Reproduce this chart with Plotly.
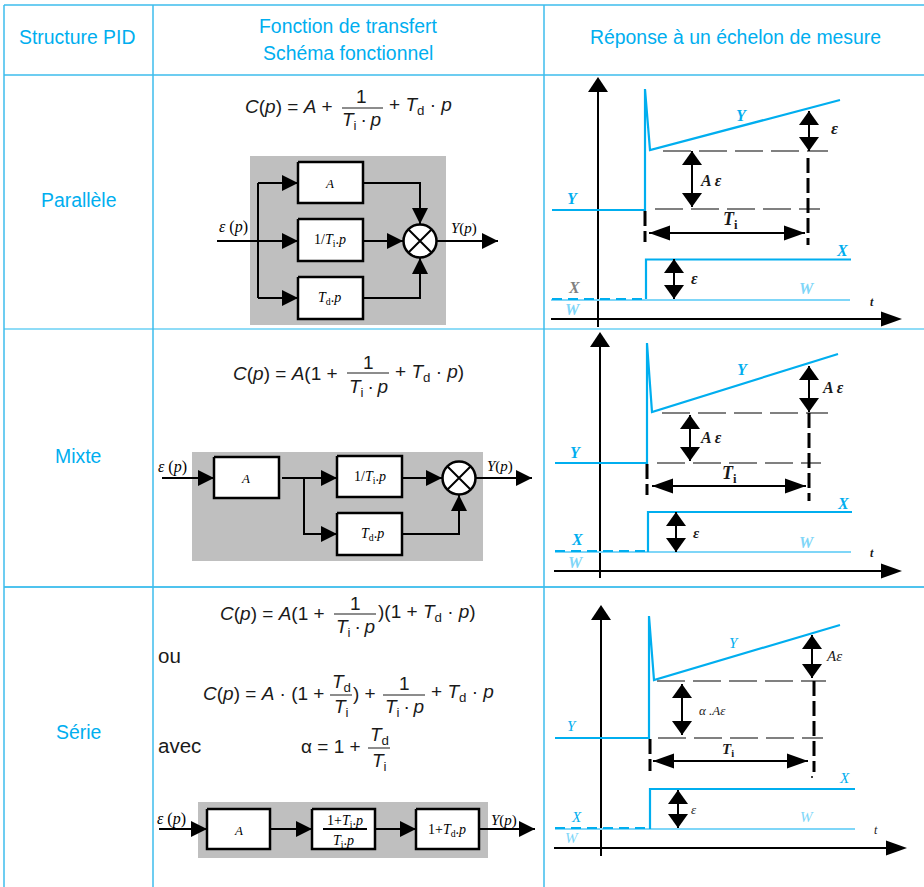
import plotly.graph_objects as go

BLUE = '#00aeef'
LIGHT = '#7fd6f8'
RULE = '#3dbcec'
GRAY_BOX = '#bfbfbf'
SANS = 'Liberation Sans'
SERIF = 'Liberation Serif'

# table rules
rule_h = [(5, RULE, 1.5), (75, RULE, 1.5), (329, '#8fdcf7', 2), (587, '#4fc3ee', 2)]
rule_v = [(4, RULE, 1.5), (153, RULE, 1.5), (544, RULE, 1.5)]

headers = [(77, 37, 'Structure PID'), (348, 26, 'Fonction de transfert'), (348, 53, 'Schéma fonctionnel'),
           (735, 37, 'Réponse à un échelon de mesure')]
row_names = [(78, 200, 'Parallèle'), (78, 456, 'Mixte'), (78, 732, 'Série')]

# block diagrams: grey background, boxes (x0, x1, y0, y1), wires, arrows, summing circles
gray_rects = [(250, 446, 156, 325), (192, 483, 452, 561), (198, 488, 802, 858)]
boxes = [(298, 363, 162, 203), (298, 363, 219, 261), (298, 363, 277, 319),
         (214, 279, 457, 498), (337, 402, 456, 497), (337, 402, 513, 555),
         (207, 270, 809, 849), (312, 375, 809, 849), (416, 479, 809, 849)]
circles = [(420, 241), (459, 478)]
wires = [
    [(217, 241), (298, 241)], [(258, 183), (258, 298)], [(258, 183), (298, 183)], [(258, 298), (298, 298)],
    [(363, 183), (420, 183), (420, 224)], [(363, 241), (403, 241)], [(363, 298), (420, 298), (420, 258)],
    [(437, 241), (498, 241)],
    [(162, 478), (214, 478)], [(282, 478), (337, 478)], [(304, 478), (304, 534), (337, 534)],
    [(402, 478), (442, 478)], [(402, 534), (459, 534), (459, 495)], [(476, 478), (532, 478)],
    [(159, 829), (207, 829)], [(270, 829), (312, 829)], [(375, 829), (416, 829)], [(479, 829), (535, 829)],
    [(323, 829), (367, 829)],
]
wire_heads = [((298, 183), 'r'), ((298, 241), 'r'), ((298, 298), 'r'), ((403, 241), 'r'), ((420, 224), 'd'),
              ((420, 258), 'u'), ((498, 241), 'r'),
              ((214, 478), 'r'), ((337, 478), 'r'), ((337, 534), 'r'), ((442, 478), 'r'), ((459, 495), 'u'),
              ((532, 478), 'r'),
              ((207, 829), 'r'), ((312, 829), 'r'), ((416, 829), 'r'), ((535, 829), 'r')]

block_text = [
    (329, 183, '<i>A</i>', 13), (330, 240, '1/<i>T</i><sub>i</sub>.<i>p</i>', 14), (329, 298, '<i>T</i><sub>d</sub>.<i>p</i>', 14),
    (245, 478, '<i>A</i>', 13), (370, 477, '1/<i>T</i><sub>i</sub>.<i>p</i>', 14), (372, 534, '<i>T</i><sub>d</sub>.<i>p</i>', 14),
    (238, 830, '<i>A</i>', 13), (345, 821, '1+<i>T</i><sub>i</sub>.<i>p</i>', 14), (343, 841, '<i>T</i><sub>i</sub>.<i>p</i>', 14),
    (447, 830, '1+<i>T</i><sub>d</sub>.<i>p</i>', 14),
    (233, 227, '<i>ε</i> (<i>p</i>)', 16), (464, 228, '<i>Y</i>(<i>p</i>)', 15),
    (172, 467, '<i>ε</i> (<i>p</i>)', 16), (500, 466, '<i>Y</i>(<i>p</i>)', 15),
    (171, 819, '<i>ε</i> (<i>p</i>)', 16), (504, 820, '<i>Y</i>(<i>p</i>)', 15),
]

# formulas
Ti_p = '<i>T</i><sub>i</sub>\u2009·\u2009<i>p</i>'
Td_p = '<i>T</i><sub>d</sub> · <i>p</i>'
Cp = '<i>C</i>(<i>p</i>) = '
eq_left = [
    (245, 106, Cp + '<i>A</i> +'), (389, 106, '+ ' + Td_p),
    (233, 373, Cp + '<i>A</i>(1 +'), (395, 373, '+ ' + Td_p + ')'),
    (220, 613, Cp + '<i>A</i>(1 +'), (378, 613, ')(1 + ' + Td_p + ')'),
    (203, 693, Cp + '<i>A</i> · (1 +'), (353, 693, ') +'), (431, 693, '+ ' + Td_p),
    (301, 746, 'α = 1 +'),
]
eq_center = [
    (361, 96, '1'), (361, 121, Ti_p), (368, 362, '1'), (368, 388, Ti_p),
    (355, 603, '1'), (355, 628, Ti_p), (341, 683, '<i>T</i><sub>d</sub>'), (341, 708, '<i>T</i><sub>i</sub>'),
    (404, 683, '1'), (404, 708, Ti_p), (379, 736, '<i>T</i><sub>d</sub>'), (379, 762, '<i>T</i><sub>i</sub>'),
]
fraction_bars = [(342, 383, 108), (347, 389, 373), (334, 376, 614), (330, 352, 695), (383, 425, 695), (368, 390, 748)]
plain_words = [(158, 655, 'ou'), (158, 745, 'avec')]

# step responses, one set of lists per row
axes_v = [(598, 327, 77), (600, 578, 332), (601, 856, 605)]
axes_h = [(551, 319, 902), (554, 571, 902), (554, 848, 907)]
curve_y = [[(552, 210), (645, 210), (645, 89), (650, 150), (840, 100)],
           [(555, 463), (647, 463), (647, 343), (652, 412), (838, 354)],
           [(555, 738), (649, 738), (649, 616), (654, 680), (840, 625)]]
curve_x = [[(646, 299), (646, 259.5), (851, 259.5)],
           [(648, 552), (648, 512), (852, 512)],
           [(650, 829), (650, 789), (855, 789)]]
curve_x_dash = [[(552, 299), (646, 299)], [(555, 551), (648, 551)], [(555, 828), (650, 828)]]
curve_w = [[(551, 300), (850, 300)], [(555, 552), (851, 552)], [(555, 829), (855, 829)]]
gray_dash = [[(663, 151), (828, 151)], [(655, 209), (820, 209)],
             [(662, 413), (828, 413)], [(657, 463), (821, 463)],
             [(657, 681), (826, 681)], [(658, 738), (823, 738)]]
black_dash = [[(645, 211), (645, 242)], [(808, 158), (808, 245)],
              [(647, 464), (647, 495)], [(809, 413), (809, 501)],
              [(650, 739), (650, 771)], [(814, 681), (814, 772)]]
stray_tick = [(811, 777), (813, 777)]
double_arrows = [[(649, 233), (805, 233)], [(692, 151), (692, 207)], [(809, 111), (809, 151)], [(674, 259), (674, 299)],
                 [(652, 486), (806, 486)], [(690, 415), (690, 461)], [(809, 366), (809, 412)], [(676, 512), (676, 552)],
                 [(653, 761), (808, 761)], [(682, 684), (682, 735)], [(812, 635), (812, 678)], [(678, 790), (678, 828)]]

labels_blue = [(572, 198, 'Y'), (741, 115, 'Y'), (842, 250, 'X'),
               (575, 452, 'Y'), (742, 369, 'Y'), (843, 503, 'X'), (577, 539, 'X')]
labels_light = [(807, 288, 'W'), (573, 309, 'W'), (807, 542, 'W'), (576, 562, 'W')]
labels_gray = [(574, 287, 'X')]
labels_black = [(834, 128, 'ε', 17), (711, 180, 'A ε', 16), (730, 220, '<i>T</i><sub>i</sub>', 18), (694, 278, 'ε', 16), (872, 302, 't', 12),
                (833, 387, 'A ε', 16), (711, 437, 'A ε', 16), (729, 474, '<i>T</i><sub>i</sub>', 18), (696, 533, 'ε', 15), (872, 553, 't', 12)]
# third row is set lighter in the source
labels_blue3 = [(572, 726, 'Y'), (734, 643, 'Y'), (844, 778, 'X'), (576, 817, 'X')]
labels_light3 = [(807, 817, 'W'), (572, 838, 'W')]
labels_black3 = [(834, 656, '<i>Aε</i>', 15), (712, 710, '<i>α .Aε</i>', 13), (728, 750, '<b><i>T</i><sub>i</sub></b>', 15),
                 (694, 809, '<i>ε</i>', 13), (876, 830, '<i>t</i>', 12)]

fig = go.Figure()


def line(points, color='black', width=2, dash=None):
    fig.add_trace(go.Scatter(x=[p[0] for p in points], y=[p[1] for p in points], mode='lines',
                             line=dict(color=color, width=width, dash=dash), hoverinfo='skip'))


def rect(r, fill, border=None):
    x0, x1, y0, y1 = r
    fig.add_trace(go.Scatter(x=[x0, x1, x1, x0, x0], y=[y0, y0, y1, y1, y0], mode='lines', fill='toself', fillcolor=fill,
                             line=dict(color=border or fill, width=2.5 if border else 0), hoverinfo='skip'))


def head(tip, direction, length=16, half=8):
    x, y = tip
    if direction == 'r':
        xs, ys = [x, x - length, x - length], [y, y - half, y + half]
    elif direction == 'l':
        xs, ys = [x, x + length, x + length], [y, y - half, y + half]
    elif direction == 'u':
        xs, ys = [x, x - half, x + half], [y, y + length, y + length]
    else:
        xs, ys = [x, x - half, x + half], [y, y - length, y - length]
    fig.add_trace(go.Scatter(x=xs, y=ys, mode='lines', fill='toself', fillcolor='black',
                             line=dict(color='black', width=0), hoverinfo='skip'))


def text(x, y, s, size, color='black', font=SANS, anchor='center'):
    fig.add_annotation(x=x, y=y, text=s, showarrow=False, xanchor=anchor, yanchor='middle',
                       font=dict(family=font, size=size, color=color), borderpad=0, borderwidth=0)


for y, color, w in rule_h:
    line([(4, y), (924, y)], color, w)
for x, color, w in rule_v:
    line([(x, 5), (x, 887)], color, w)

for r in gray_rects:
    rect(r, GRAY_BOX)
for w in wires:
    line(w)
for r in boxes:
    rect(r, 'white', 'black')
line(wires[-1])
for tip, d in wire_heads:
    head(tip, d)
for cx, cy in circles:
    fig.add_trace(go.Scatter(x=[cx], y=[cy], mode='markers', hoverinfo='skip',
                             marker=dict(size=33, color='white', line=dict(color='black', width=2.5))))
    fig.add_trace(go.Scatter(x=[cx], y=[cy], mode='markers', hoverinfo='skip',
                             marker=dict(size=24, symbol='x-thin', line=dict(color='black', width=2))))

for x, y0, y1 in axes_v:
    line([(x, y0), (x, y1 + 5)], 'black', 2)
    head((x, y1), 'u', 15, 10)
for x0, y, x1 in axes_h:
    line([(x0, y), (x1 - 5, y)], 'black', 2)
    head((x1, y), 'r', 21, 7.5)

for seg in gray_dash:
    line(seg, '#808080', 2, '28px,8px')
for seg in black_dash:
    line(seg, 'black', 3, '15px,5px')
line(stray_tick, 'black', 1.5)
for c in curve_w:
    line(c, LIGHT, 2)
for c in curve_x_dash:
    line(c, BLUE, 2, '10px,6px')
for c in curve_x:
    line(c, BLUE, 2.2)
for c in curve_y:
    line(c, BLUE, 2.2)
for a, b in double_arrows:
    line([a, b], 'black', 2)
    if a[1] == b[1]:
        head(a, 'l', 21, 7.5)
        head(b, 'r', 21, 7.5)
    else:
        head(a, 'u', 14, 10)
        head(b, 'd', 14, 10)

for x, y, s in headers:
    text(x, y, s, 19.4, BLUE)
for x, y, s in row_names:
    text(x, y, s, 19.4, BLUE)
for x, y, s, size in block_text:
    text(x, y, s, size, 'black', SERIF)
for x, y, s in eq_left:
    text(x, y, s, 19, '#1a1a1a', SANS, 'left')
for x, y, s in eq_center:
    text(x, y, s, 19, '#1a1a1a')
for x0, x1, y in fraction_bars:
    line([(x0, y), (x1, y)], '#1a1a1a', 1)
for x, y, s in plain_words:
    text(x, y, s, 20.5, '#1a1a1a', SANS, 'left')
for x, y, s in labels_blue:
    text(x, y, '<b><i>' + s + '</i></b>', 16, BLUE, SERIF)
for x, y, s in labels_light:
    text(x, y, '<b><i>' + s + '</i></b>', 16, LIGHT, SERIF)
for x, y, s in labels_gray:
    text(x, y, '<b><i>' + s + '</i></b>', 16, '#808080', SERIF)
for x, y, s, size in labels_black:
    body = s if '<i>' in s else '<i>' + s + '</i>'
    text(x, y, '<b>' + body + '</b>', size, '#1a1a1a', SERIF)
for x, y, s in labels_blue3:
    text(x, y, '<i>' + s + '</i>', 15, BLUE, SERIF)
for x, y, s in labels_light3:
    text(x, y, '<i>' + s + '</i>', 15, LIGHT, SERIF)
for x, y, s, size in labels_black3:
    text(x, y, s, size, '#1a1a1a', SERIF)

fig.update_layout(width=924, height=887, margin=dict(l=0, r=0, t=0, b=0), showlegend=False,
                  paper_bgcolor='white', plot_bgcolor='white')
fig.update_xaxes(range=[0, 924], visible=False, fixedrange=True)
fig.update_yaxes(range=[887, 0], visible=False, fixedrange=True)

fig.write_html("out.html", config=dict(displayModeBar=False),
               post_script="document.body.style.margin='0';document.body.style.overflow='hidden';")
